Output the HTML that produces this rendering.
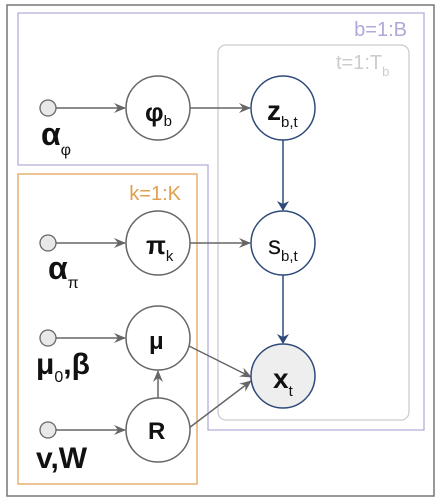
<!DOCTYPE html>
<html><head><meta charset="utf-8"><style>
html,body{margin:0;padding:0;background:#fff;}
svg{display:block;font-family:"Liberation Sans",sans-serif;}
</style></head><body>
<svg width="441" height="501" viewBox="0 0 441 501">
<defs>
<marker id="ag" markerWidth="12" markerHeight="10" refX="11" refY="5" orient="auto" markerUnits="userSpaceOnUse"><path d="M0,0 L12,5 L0,10 L4,5 Z" fill="#666"/></marker>
<marker id="ab" markerWidth="10" markerHeight="12" refX="9" refY="6" orient="auto" markerUnits="userSpaceOnUse"><path d="M0,0 L10,6 L0,12 L3,6 Z" fill="#2e4a7a"/></marker>
</defs>
<rect x="7" y="5" width="427" height="491" fill="none" stroke="#777" stroke-width="1.5"/>
<path d="M18,13 H424 V430 H208 V165 H18 Z" fill="none" stroke="#b4acd8" stroke-width="1.3"/>
<text x="407" y="36" font-size="20" fill="#b0a8d8" text-anchor="end">b=1:B</text>
<rect x="218" y="45" width="191" height="375" rx="8" fill="none" stroke="#ccc" stroke-width="1.3"/>
<text x="336" y="69" font-size="20" fill="#ccc">t=1:T<tspan font-size="13" dy="7">b</tspan></text>
<rect x="18" y="174" width="179" height="310" fill="none" stroke="#e4a55a" stroke-width="1.3"/>
<text x="181" y="200" font-size="20" fill="#e0a050" text-anchor="end">k=1:K</text>

<g stroke="#666" stroke-width="1.5" fill="none">
<line x1="56" y1="108" x2="125" y2="108" marker-end="url(#ag)"/>
<line x1="190" y1="108" x2="250" y2="108" marker-end="url(#ag)"/>
<line x1="56" y1="243" x2="125" y2="243" marker-end="url(#ag)"/>
<line x1="190" y1="243" x2="250" y2="243" marker-end="url(#ag)"/>
<line x1="56" y1="338" x2="125" y2="338" marker-end="url(#ag)"/>
<line x1="56" y1="430" x2="125" y2="430" marker-end="url(#ag)"/>
<line x1="158" y1="398" x2="158" y2="371" marker-end="url(#ag)"/>
<line x1="189" y1="346" x2="251" y2="377" marker-end="url(#ag)"/>
<line x1="189" y1="428" x2="251" y2="381" marker-end="url(#ag)"/>
</g>
<g stroke="#2e4a7a" stroke-width="1.5">
<line x1="283" y1="140" x2="283" y2="210" marker-end="url(#ab)"/>
<line x1="283" y1="275" x2="283" y2="343" marker-end="url(#ab)"/>
</g>

<g stroke="#666" stroke-width="1.3" fill="#e8e8e8">
<circle cx="48" cy="108" r="8"/>
<circle cx="48" cy="243" r="8"/>
<circle cx="48" cy="338" r="8"/>
<circle cx="48" cy="430" r="8"/>
</g>
<g stroke="#666" stroke-width="1.5" fill="#fff">
<circle cx="158" cy="108" r="32"/>
<circle cx="158" cy="243" r="32"/>
<circle cx="158" cy="338" r="32"/>
<circle cx="158" cy="430" r="32"/>
</g>
<g stroke="#2e4a7a" stroke-width="1.5">
<circle cx="283" cy="108" r="32" fill="#fff"/>
<circle cx="283" cy="243" r="32" fill="#fff"/>
<circle cx="283" cy="376" r="32" fill="#eee"/>
</g>

<g font-weight="bold" fill="#111">
<text x="145" y="121" font-size="26">φ<tspan font-size="15" font-weight="normal" dy="5">b</tspan></text>
<text x="267" y="120" font-size="28">z<tspan font-size="15" font-weight="normal" dy="7">b,t</tspan></text>
<text x="146" y="254" font-size="26">π<tspan font-size="15" font-weight="normal" dy="7">k</tspan></text>
<text x="268" y="254" font-size="26" font-weight="normal">s<tspan font-size="15" dy="7">b,t</tspan></text>
<text x="149" y="349" font-size="24">μ</text>
<text x="148" y="439" font-size="24">R</text>
<text x="273" y="388" font-size="28">x<tspan font-size="15" font-weight="normal" dy="8">t</tspan></text>
<text x="41" y="145" font-size="32">α<tspan font-size="16" font-weight="normal" dy="10">φ</tspan></text>
<text x="48" y="279" font-size="32">α<tspan font-size="16" font-weight="normal" dy="9">π</tspan></text>
<text x="36" y="374" font-size="30">μ<tspan font-size="16" font-weight="normal" dy="8">0</tspan><tspan dy="-8">,β</tspan></text>
<text x="36" y="468" font-size="30">v,W</text>
</g>
</svg>
</body></html>
